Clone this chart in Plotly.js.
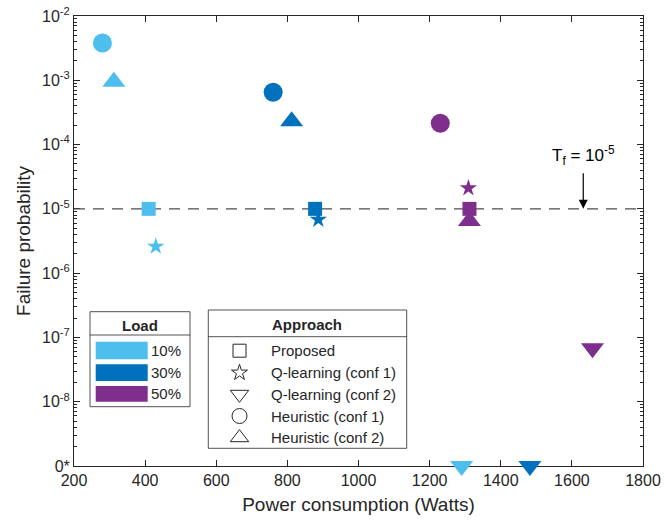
<!DOCTYPE html>
<html><head><meta charset="utf-8">
<script src="https://cdn.plot.ly/plotly-3.0.1.min.js"></script>
<style>html,body{margin:0;padding:0;background:#fff}#chart{width:664px;height:520px}</style>
</head><body><div id="chart"></div>
<script>
// ---- data ----
const loads = ['10%', '30%', '50%'];
const loadColors = ['#4DBEEE', '#0072BD', '#7E2F8E'];
const approaches = ['Proposed', 'Q-learning (conf 1)', 'Q-learning (conf 2)', 'Heuristic (conf 1)', 'Heuristic (conf 2)'];
const approachSymbols = ['square', 'star', 'triangle-down', 'circle', 'triangle-up'];
const power10 = [410, 430, 1290, 280, 312];
const prob10  = [1e-5, 2.6e-6, 0, 3.8e-3, 9.5e-4];
const power30 = [878, 887, 1482, 760, 812];
const prob30  = [1e-5, 6.8e-6, 0, 6.5e-4, 2.3e-4];
const power50 = [1312, 1309, 1658, 1230, 1312];
const prob50  = [1e-5, 2.1e-5, 6.8e-8, 2.15e-4, 6.5e-6];
const threshold = 1e-5;
const zeroStar = 1e-9;   // position where "0*" is drawn
const xRange = [200, 1800];
const xTickVals = [200, 400, 600, 800, 1000, 1200, 1400, 1600, 1800];
const yTickVals = [1e-9, 1e-8, 1e-7, 1e-6, 1e-5, 1e-4, 1e-3, 1e-2];
const yTickText = ['0*', '10<sup>-8</sup>', '10<sup>-7</sup>', '10<sup>-6</sup>', '10<sup>-5</sup>', '10<sup>-4</sup>', '10<sup>-3</sup>', '10<sup>-2</sup>'];

// ---- styling ----
const FONT = 'Liberation Sans, Arial, Helvetica, sans-serif';
const INK = '#262626';
const M = {l: 74, r: 21, t: 16, b: 54};
const W = 664, H = 520;
const PW = W - M.l - M.r, PH = H - M.t - M.b;
const fx = px => (px - M.l) / PW;
const fy = py => (M.t + PH - py) / PH;
const markerSizes = [14, 13, 20, 19, 20];

const powers = [power10, power30, power50];
const probs = [prob10, prob30, prob50];

const traces = [];
// threshold line
traces.push({
  x: xRange, y: [threshold, threshold], mode: 'lines', type: 'scatter',
  line: {color: '#4d4d4d', width: 1.3, dash: '11px,8px'}, hoverinfo: 'skip', showlegend: false
});
loads.forEach((ld, i) => {
  traces.push({
    type: 'scatter', mode: 'markers', name: ld,
    x: powers[i], y: probs[i].map(v => v === 0 ? zeroStar : v),
    text: approaches,
    marker: {color: loadColors[i], symbol: approachSymbols, size: markerSizes, opacity: 1, line: {width: 0}},
    cliponaxis: false, showlegend: false
  });
});

// legend "Approach" symbols (overlay axes in plot fractions)
const rowPy = [350.7, 372.7, 394.3, 416, 437.7];
const legSizes = [13, 12, 16, 15, 16];
traces.push({
  type: 'scatter', mode: 'markers', xaxis: 'x2', yaxis: 'y2',
  x: approaches.map(() => fx(239.5)), y: rowPy.map(fy),
  marker: {symbol: approachSymbols.map(s => s + '-open'), size: legSizes, opacity: 1, color: INK, line: {width: 1, color: INK}},
  cliponaxis: false, hoverinfo: 'skip', showlegend: false
});

const shapes = [];
const annotations = [];
const box = (x0, y0, x1, y1, fill, lw) => ({
  type: 'rect', xref: 'paper', yref: 'paper', layer: 'below',
  x0: fx(x0), x1: fx(x1), y0: fy(y0), y1: fy(y1),
  fillcolor: fill, line: {color: INK, width: lw}
});
const hline = (x0, x1, y) => ({
  type: 'line', xref: 'paper', yref: 'paper', layer: 'below',
  x0: fx(x0), x1: fx(x1), y0: fy(y), y1: fy(y), line: {color: INK, width: 0.8}
});
// Load legend
shapes.push(box(90, 311.7, 190, 406.7, '#ffffff', 0.8));
shapes.push(hline(90, 190, 335));
const barY = [[341.7, 359.3], [364.3, 381], [386, 401.7]];
const loadLabelY = [350.5, 372.7, 393.9];
loads.forEach((ld, i) => {
  shapes.push({type: 'rect', xref: 'paper', yref: 'paper', layer: 'below',
    x0: fx(95.7), x1: fx(147.7), y0: fy(barY[i][0]), y1: fy(barY[i][1]),
    fillcolor: loadColors[i], line: {width: 0}});
  annotations.push({xref: 'paper', yref: 'paper', x: fx(183), y: fy(loadLabelY[i]),
    xanchor: 'right', yanchor: 'middle', showarrow: false, text: ld,
    font: {family: FONT, size: 15, color: INK}});
});
annotations.push({xref: 'paper', yref: 'paper', x: fx(140), y: fy(325), xanchor: 'center', yanchor: 'middle',
  showarrow: false, text: '<b>Load</b>', font: {family: FONT, size: 15, color: INK}});
// Approach legend
shapes.push(box(208.3, 310, 406.7, 448.3, '#ffffff', 0.8));
shapes.push(hline(208.3, 406.7, 336.7));
annotations.push({xref: 'paper', yref: 'paper', x: fx(307), y: fy(324), xanchor: 'center', yanchor: 'middle',
  showarrow: false, text: '<b>Approach</b>', font: {family: FONT, size: 15, color: INK}});
approaches.forEach((a, i) => {
  annotations.push({xref: 'paper', yref: 'paper', x: fx(269), y: fy(rowPy[i]), xanchor: 'left', yanchor: 'middle',
    showarrow: false, text: a, font: {family: FONT, size: 15, color: INK}});
});
// threshold annotation
annotations.push({x: 1632, y: Math.log10(threshold), xref: 'x', yref: 'y', text: '', showarrow: true,
  ax: 0, ay: -37, arrowhead: 2, arrowsize: 1.5, arrowwidth: 1.2, arrowcolor: '#000'});
annotations.push({x: 1632, xref: 'x', yref: 'paper', y: fy(155), xanchor: 'center', yanchor: 'middle',
  showarrow: false, text: 'T<sub>f</sub> = 10<sup>-5</sup>', font: {family: FONT, size: 17, color: '#000'}});

// minor ticks
const minorVals = [];
for (let e = -9; e < -2; e++) for (let k = 2; k <= 9; k++) minorVals.push(k * Math.pow(10, e));

const axisCommon = {
  showgrid: false, zeroline: false, showline: true, linecolor: INK, linewidth: 1,
  ticks: 'inside', ticklen: 6, tickcolor: INK, tickwidth: 1, mirror: 'ticks',
  tickfont: {family: FONT, size: 16, color: INK}, layer: 'below traces'
};
const layout = {
  width: W, height: H, margin: M, paper_bgcolor: '#fff', plot_bgcolor: '#fff',
  showlegend: false,
  xaxis: Object.assign({}, axisCommon, {
    range: xRange, tickmode: 'array', tickvals: xTickVals,
    title: {text: 'Power consumption (Watts)', font: {family: FONT, size: 19, color: INK}, standoff: 9}
  }),
  yaxis: Object.assign({}, axisCommon, {
    type: 'log', range: [-9, -2], tickmode: 'array', tickvals: yTickVals, ticktext: yTickText,
    minor: {tickvals: minorVals, ticks: 'inside', ticklen: 3, tickcolor: INK, tickwidth: 1},
    title: {text: 'Failure probability', font: {family: FONT, size: 19, color: INK}, standoff: 6}
  }),
  xaxis2: {overlaying: 'x', range: [0, 1], visible: false, fixedrange: true},
  yaxis2: {overlaying: 'y', range: [0, 1], visible: false, fixedrange: true},
  shapes: shapes, annotations: annotations
};
Plotly.newPlot('chart', traces, layout, {staticPlot: true});
</script></body></html>
